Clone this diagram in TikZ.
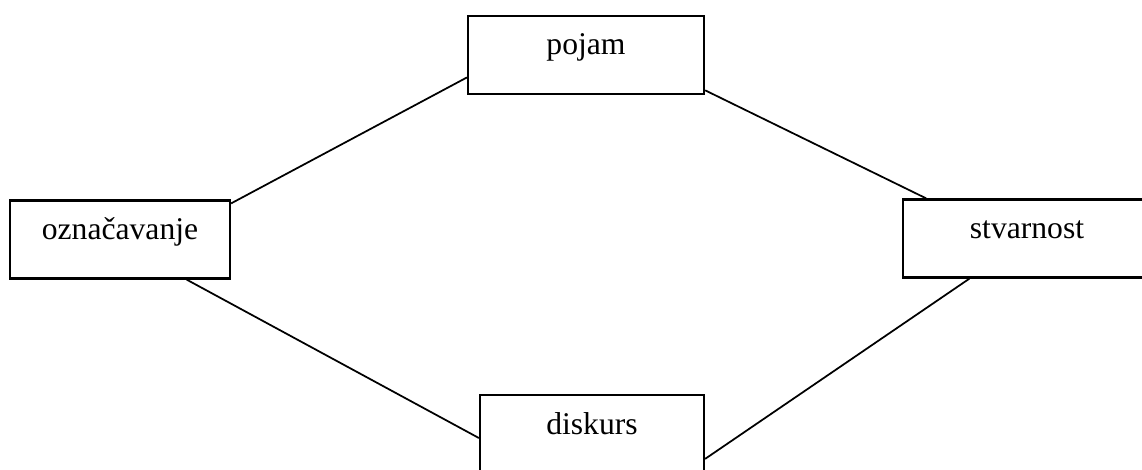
\documentclass[tikz,border=0pt]{standalone}
\usepackage{fontspec}
\setmainfont{Liberation Serif}
\usetikzlibrary{calc}
\tikzset{
	pojambox/.style={draw=black, line width=0.45mm, inner sep=0pt, text height=0.78cm, text depth=0.78cm, font=\fontsize{18}{22}\selectfont},
	veza/.style={black, line width=0.35mm}
}

\begin{document}
\begin{tikzpicture}
\clip (0,0) rectangle (22.84,9.38);
\node[pojambox, minimum width=4.72cm](pojam) at (11.72,8.28){pojam};
\node[pojambox, minimum width=4.40cm](oznacavanje) at (2.40,4.59){označavanje};
\node[pojambox, minimum width=4.96cm](stvarnost) at (20.54,4.61){stvarnost};
\node[pojambox, minimum width=4.48cm](diskurs) at (11.84,0.70){diskurs};
\draw[veza]($(oznacavanje.north east)!0.05!(oznacavanje.south east)$)--($(pojam.north west)!0.78!(pojam.south west)$);
\draw[veza]($(pojam.north east)!0.94!(pojam.south east)$)--($(stvarnost.north west)!0.097!(stvarnost.north east)$);
\draw[veza]($(oznacavanje.south west)!0.80!(oznacavanje.south east)$)--($(diskurs.north west)!0.55!(diskurs.south west)$);
\draw[veza]($(diskurs.north east)!0.81!(diskurs.south east)$)--($(stvarnost.south west)!0.27!(stvarnost.south east)$);
\end{tikzpicture}
\end{document}
